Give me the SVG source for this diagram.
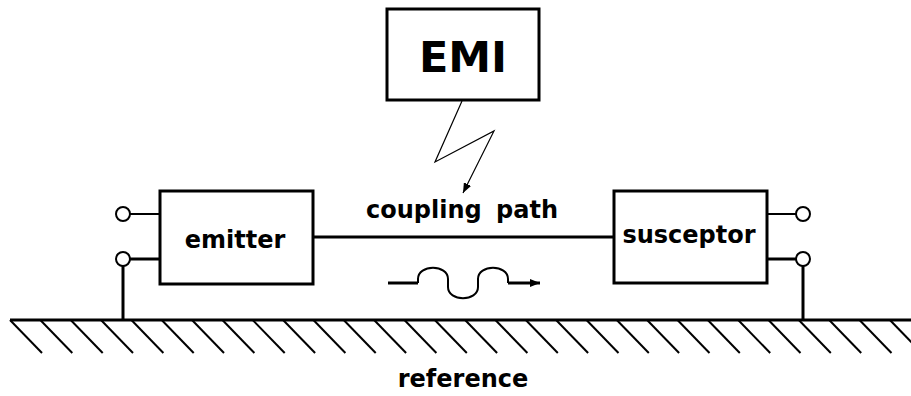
<svg xmlns="http://www.w3.org/2000/svg" width="911" height="396" viewBox="0 0 911 396">
  <style>
    .box { fill: #fff; stroke: #000; stroke-width: 3; }
    .lbl { font-family: "DejaVu Sans", "Liberation Sans", sans-serif; font-weight: bold; font-size: 24px; fill: #000; text-anchor: middle; }
    .big { font-size: 43px; }
    .wire { stroke: #000; fill: none; stroke-linecap: butt; }
    .term { fill: #fff; stroke: #000; stroke-width: 2; }
    .hatch { stroke: #000; stroke-width: 2; }
  </style>
  <defs>
    <marker id="tip" viewBox="0 0 10 8" refX="10" refY="4" markerWidth="10" markerHeight="8" markerUnits="userSpaceOnUse" orient="auto">
      <path d="M0,0 L10,4 L0,8 z" fill="#000"/>
    </marker>
    <line id="h" x1="0" y1="0" x2="32" y2="33" class="hatch"/>
  </defs>

  <!-- ground reference -->
  <g id="ground">
    <line x1="10" y1="320" x2="911" y2="320" stroke="#000" stroke-width="3"/>
    <g>
      <use href="#h" x="10" y="320"/><use href="#h" x="40.3" y="320"/><use href="#h" x="70.7" y="320"/>
      <use href="#h" x="101" y="320"/><use href="#h" x="131.4" y="320"/><use href="#h" x="161.7" y="320"/>
      <use href="#h" x="192" y="320"/><use href="#h" x="222.4" y="320"/><use href="#h" x="252.7" y="320"/>
      <use href="#h" x="283.1" y="320"/><use href="#h" x="313.4" y="320"/><use href="#h" x="343.7" y="320"/>
      <use href="#h" x="374.1" y="320"/><use href="#h" x="404.4" y="320"/><use href="#h" x="434.8" y="320"/>
      <use href="#h" x="465.1" y="320"/><use href="#h" x="495.4" y="320"/><use href="#h" x="525.8" y="320"/>
      <use href="#h" x="556.1" y="320"/><use href="#h" x="586.5" y="320"/><use href="#h" x="616.8" y="320"/>
      <use href="#h" x="647.1" y="320"/><use href="#h" x="677.5" y="320"/><use href="#h" x="707.8" y="320"/>
      <use href="#h" x="738.2" y="320"/><use href="#h" x="768.5" y="320"/><use href="#h" x="798.8" y="320"/>
      <use href="#h" x="829.2" y="320"/><use href="#h" x="859.5" y="320"/><use href="#h" x="889.9" y="320"/>
    </g>
    <text class="lbl" x="463" y="387">reference</text>
  </g>

  <!-- connectors -->
  <g id="connectors">
    <!-- emitter terminals -->
    <line class="wire" x1="130" y1="214" x2="160" y2="214" stroke-width="2"/>
    <line class="wire" x1="130" y1="259" x2="160" y2="259" stroke-width="3"/>
    <line class="wire" x1="123" y1="266" x2="123" y2="320" stroke-width="3"/>
    <!-- susceptor terminals -->
    <line class="wire" x1="767" y1="214" x2="796" y2="214" stroke-width="2"/>
    <line class="wire" x1="767" y1="259" x2="796" y2="259" stroke-width="3"/>
    <line class="wire" x1="803" y1="266" x2="803" y2="320" stroke-width="3"/>
    <!-- coupling path line -->
    <line class="wire" x1="313" y1="237" x2="614" y2="237" stroke-width="3"/>
    <!-- EMI lightning -->
    <polyline class="wire" points="462,101 435,162 494,131 463,193" stroke-width="1.2" marker-end="url(#tip)"/>
    <!-- wave symbol -->
    <path class="wire" d="M388,283 H418" stroke-width="3"/>
    <path class="wire" d="M418,283 V279 C418,264 448,264 448,279 V287 C448,302 478,302 478,287 V279 C478,264 508,264 508,279 V283" stroke-width="2"/>
    <path class="wire" d="M508,283 H540" stroke-width="3" marker-end="url(#tip)"/>
    <text class="lbl" x="462" y="218" word-spacing="6">coupling path</text>
  </g>

  <!-- terminals -->
  <g id="terminals">
    <circle class="term" cx="123" cy="214" r="7"/>
    <circle class="term" cx="123" cy="259" r="7"/>
    <circle class="term" cx="803" cy="214" r="7"/>
    <circle class="term" cx="803" cy="259" r="7"/>
  </g>

  <g id="emi">
    <rect class="box" x="387" y="9" width="152" height="91" stroke-width="2"/>
    <text class="lbl big" x="463" y="72">EMI</text>
  </g>

  <g id="emitter">
    <rect class="box" x="160" y="191" width="153" height="93"/>
    <text class="lbl" x="235" y="248">emitter</text>
  </g>

  <g id="susceptor">
    <rect class="box" x="614" y="191" width="153" height="92"/>
    <text class="lbl" x="689" y="243">susceptor</text>
  </g>
</svg>
